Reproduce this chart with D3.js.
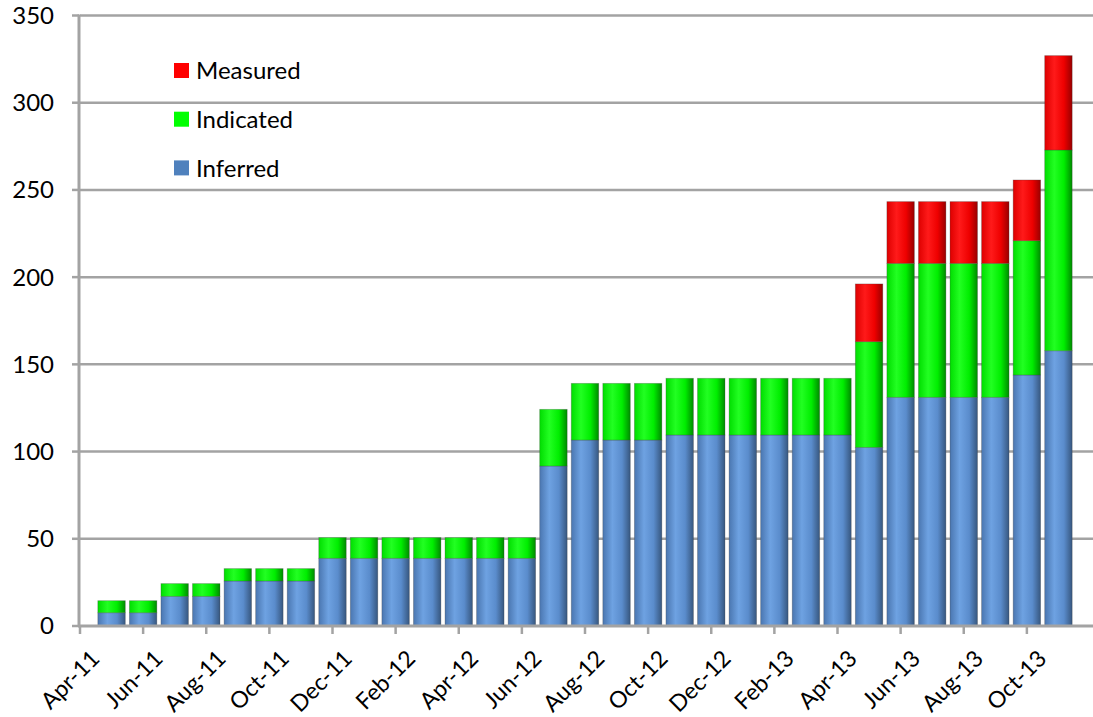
<!DOCTYPE html>
<html>
<head>
<meta charset="utf-8">
<script src="https://cdn.jsdelivr.net/npm/d3@7"></script>
<style>
  html, body { margin: 0; padding: 0; background: #ffffff; }
  svg { display: block; }
  text { font-family: Lato, "Open Sans", "Liberation Sans", sans-serif; fill: #000; }
</style>
</head>
<body>
<svg id="chart" width="1093" height="717"></svg>
<script>
// ---------- DATA ----------
const axisMonths = ["Apr-11","May-11","Jun-11","Jul-11","Aug-11","Sep-11","Oct-11","Nov-11","Dec-11",
  "Jan-12","Feb-12","Mar-12","Apr-12","May-12","Jun-12","Jul-12","Aug-12","Sep-12","Oct-12","Nov-12","Dec-12",
  "Jan-13","Feb-13","Mar-13","Apr-13","May-13","Jun-13","Jul-13","Aug-13","Sep-13","Oct-13","Nov-13","Dec-13"];
const tickLabels = ["Apr-11","Jun-11","Aug-11","Oct-11","Dec-11","Feb-12","Apr-12","Jun-12","Aug-12",
  "Oct-12","Dec-12","Feb-13","Apr-13","Jun-13","Aug-13","Oct-13"];
const barMonths = ["May-11","Jun-11","Jul-11","Aug-11","Sep-11","Oct-11","Nov-11","Dec-11",
  "Jan-12","Feb-12","Mar-12","Apr-12","May-12","Jun-12","Jul-12","Aug-12","Sep-12","Oct-12","Nov-12","Dec-12",
  "Jan-13","Feb-13","Mar-13","Apr-13","May-13","Jun-13","Jul-13","Aug-13","Sep-13","Oct-13","Nov-13"];
const inferred  = [7.6,7.6,17.0,17.0,25.8,25.8,25.8,38.8,38.8,38.8,38.8,38.8,38.8,38.8,
  91.7,106.6,106.6,106.6,109.5,109.5,109.5,109.5,109.5,109.5,102.4,131.1,131.1,131.1,131.1,143.9,157.8];
const indicated = [6.9,6.9,7.3,7.3,7.1,7.1,7.1,11.9,11.9,11.9,11.9,11.9,11.9,11.9,
  32.5,32.5,32.5,32.5,32.5,32.5,32.5,32.5,32.5,32.5,60.6,76.8,76.8,76.8,76.8,77.0,115.1];
const measured  = [0,0,0,0,0,0,0,0,0,0,0,0,0,0,
  0,0,0,0,0,0,0,0,0,0,33.1,35.4,35.4,35.4,35.4,34.8,54.1];
const seriesNames = ["Inferred","Indicated","Measured"];
const yTicks = [0,50,100,150,200,250,300,350];
const legendOrder = ["Measured","Indicated","Inferred"];

// ---------- LAYOUT ----------
const W = 1093, H = 717;
const plot = { left: 80, right: 1090, top: 15.5, bottom: 626 };
const svg = d3.select("#chart");

const x = d3.scalePoint().domain(axisMonths).range([plot.left, plot.right]);
const y = d3.scaleLinear().domain([0, 350]).range([plot.bottom, plot.top]);
const barW = x.step() * 0.87;

const gradStops = {
  Inferred:  ["#4a76b0", "#6ea2e2", "#5a8ccc", "#37577f"],
  Indicated: ["#00dd00", "#22ff22", "#00ee00", "#008a00"],
  Measured:  ["#dd0000", "#ff1a1a", "#ee0000", "#980000"]
};
const defs = svg.append("defs");
seriesNames.forEach(name => {
  const g = defs.append("linearGradient").attr("id", "g-" + name)
    .attr("x1", "0%").attr("x2", "100%").attr("y1", "0%").attr("y2", "0%");
  const c = gradStops[name];
  g.append("stop").attr("offset", "0%").attr("stop-color", c[0]);
  g.append("stop").attr("offset", "35%").attr("stop-color", c[1]);
  g.append("stop").attr("offset", "70%").attr("stop-color", c[2]);
  g.append("stop").attr("offset", "100%").attr("stop-color", c[3]);
});

// gridlines
svg.append("g").selectAll("line").data(yTicks.filter(d => d > 0)).join("line")
  .attr("x1", plot.left).attr("x2", W)
  .attr("y1", d => y(d)).attr("y2", d => y(d))
  .attr("stroke", "#a3a3a3").attr("stroke-width", 2.5);

// stacked bars
const table = barMonths.map((m, i) => ({ month: m, Inferred: inferred[i], Indicated: indicated[i], Measured: measured[i] }));
const stack = d3.stack().keys(seriesNames)(table);
const colors = { Inferred: "url(#g-Inferred)", Indicated: "url(#g-Indicated)", Measured: "url(#g-Measured)" };

stack.forEach(layer => {
  svg.append("g").selectAll("rect").data(layer.filter(d => d[1] - d[0] > 0)).join("rect")
    .attr("x", d => x(d.data.month) - barW / 2)
    .attr("width", barW)
    .attr("y", d => y(d[1]))
    .attr("height", d => y(d[0]) - y(d[1]))
    .attr("fill", colors[layer.key])
    .attr("stroke", "rgba(60,60,60,0.35)")
    .attr("stroke-width", 0.8);
});

// y axis
const yAxis = svg.append("g");
yAxis.append("line").attr("x1", plot.left - 1).attr("x2", plot.left - 1)
  .attr("y1", plot.top - 1).attr("y2", plot.bottom + 1)
  .attr("stroke", "#a3a3a3").attr("stroke-width", 3);
yAxis.selectAll("line.tick").data(yTicks).join("line").attr("class", "tick")
  .attr("x1", plot.left - 8).attr("x2", plot.left - 1)
  .attr("y1", d => y(d)).attr("y2", d => y(d))
  .attr("stroke", "#a3a3a3").attr("stroke-width", 2.5);
yAxis.selectAll("text").data(yTicks).join("text")
  .attr("x", 54).attr("y", d => y(d))
  .attr("dy", "0.35em").attr("text-anchor", "end")
  .attr("font-size", 24).text(d => d);

// x axis
const xAxis = svg.append("g");
xAxis.append("line").attr("x1", plot.left - 2).attr("x2", W)
  .attr("y1", plot.bottom).attr("y2", plot.bottom)
  .attr("stroke", "#a3a3a3").attr("stroke-width", 3);
xAxis.selectAll("line.tick").data(tickLabels).join("line").attr("class", "tick")
  .attr("x1", d => x(d)).attr("x2", d => x(d))
  .attr("y1", plot.bottom).attr("y2", plot.bottom + 8)
  .attr("stroke", "#a3a3a3").attr("stroke-width", 2.5);
xAxis.selectAll("text").data(tickLabels).join("text")
  .attr("transform", d => `translate(${x(d) + 21},${plot.bottom + 34}) rotate(-45)`)
  .attr("text-anchor", "end")
  .attr("font-size", 23).text(d => d);

// legend
const legend = svg.append("g");
legendOrder.forEach((name, i) => {
  const gy = 63 + i * 48.7;
  legend.append("rect").attr("x", 174).attr("y", gy).attr("width", 15).attr("height", 15)
    .attr("fill", { Measured: "#ff0000", Indicated: "#00ff00", Inferred: "#4f81bd" }[name]);
  legend.append("text").attr("x", 196).attr("y", gy + 7.5).attr("dy", "0.36em")
    .attr("font-size", 24).text(name);
});
</script>
</body>
</html>
